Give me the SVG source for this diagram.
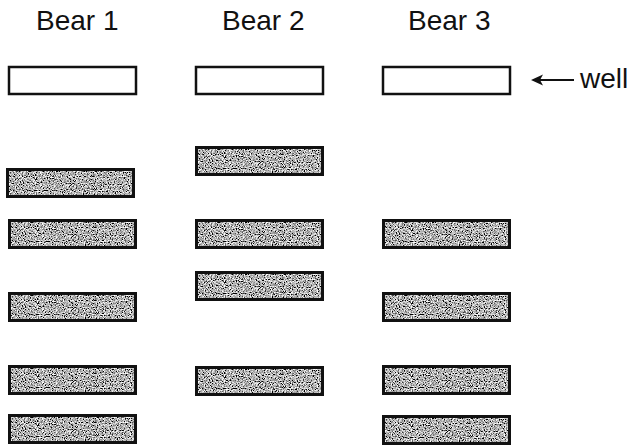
<svg xmlns="http://www.w3.org/2000/svg" width="631" height="446" viewBox="0 0 631 446">
<style>
.lbl{font-family:"Liberation Sans",Arial,sans-serif;font-size:28px;fill:#111}
.well{fill:#fff;stroke:#111;stroke-width:2.5}
.fill{fill:#8c8c8c;filter:url(#grain)}
.edge{fill:none;stroke:#111;stroke-width:3}
.conn{stroke:#111;stroke-width:2;fill:none}
</style>
<defs>
<filter id="grain" x="0" y="0" width="100%" height="100%">
<feTurbulence type="fractalNoise" baseFrequency="0.85" numOctaves="2" seed="7" result="n"/>
<feColorMatrix in="n" type="matrix" values="2.6 0 0 0 -0.85  2.6 0 0 0 -0.85  2.6 0 0 0 -0.85  0 0 0 0 1" result="g"/>
<feComposite in="g" in2="SourceGraphic" operator="in"/>
</filter>
<g id="band">
<rect class="fill" x="0" y="0" width="129" height="30"/>
<rect class="edge" x="1.5" y="1.5" width="126" height="27"/>
</g>
</defs>
<g id="headers">
<text class="lbl" x="36" y="30">Bear 1</text>
<text class="lbl" x="222" y="30">Bear 2</text>
<text class="lbl" x="408" y="30">Bear 3</text>
</g>
<g id="wells">
<rect id="well1" class="well" x="9" y="67" width="127" height="27"/>
<rect id="well2" class="well" x="196" y="67" width="127" height="27"/>
<rect id="well3" class="well" x="383" y="67" width="127" height="27"/>
</g>
<g id="bear1">
<use href="#band" x="6" y="168"/>
<use href="#band" x="8" y="219"/>
<use href="#band" x="8" y="292"/>
<use href="#band" x="8" y="365"/>
<use href="#band" x="8" y="414"/>
</g>
<g id="bear2">
<use href="#band" x="195" y="146"/>
<use href="#band" x="195" y="219"/>
<use href="#band" x="195" y="271"/>
<use href="#band" x="195" y="366"/>
</g>
<g id="bear3">
<use href="#band" x="382" y="219"/>
<use href="#band" x="382" y="292"/>
<use href="#band" x="382" y="365"/>
<use href="#band" x="382" y="415"/>
</g>
<g id="connectors">
<line class="conn" x1="574" y1="80" x2="538" y2="80"/>
<path d="M531,80 L543,74.5 L540,80 L543,85.5 Z" fill="#111"/>
</g>
<g id="well-label">
<text class="lbl" x="580" y="88">well</text>
</g>
</svg>
